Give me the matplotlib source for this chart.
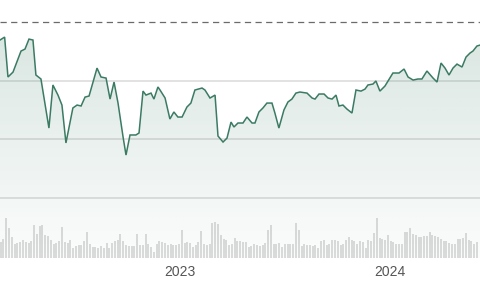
import matplotlib
matplotlib.use("Agg")
import matplotlib.pyplot as plt
import numpy as np
from matplotlib.colors import to_rgb

# price series (decimal year, price)
dates = [2022.143, 2022.165, 2022.181, 2022.205, 2022.243, 2022.262, 2022.281, 2022.300,
         2022.314, 2022.338, 2022.376, 2022.395, 2022.419, 2022.438, 2022.457, 2022.490,
         2022.510, 2022.529, 2022.548, 2022.567, 2022.605, 2022.624, 2022.648, 2022.667,
         2022.686, 2022.705, 2022.729, 2022.743, 2022.762, 2022.790, 2022.805, 2022.824,
         2022.838, 2022.862, 2022.876, 2022.895, 2022.905, 2022.929, 2022.952, 2022.971,
         2022.990, 2023.010, 2023.033, 2023.052, 2023.071, 2023.105, 2023.119, 2023.143,
         2023.167, 2023.181, 2023.205, 2023.224, 2023.243, 2023.257, 2023.276, 2023.300,
         2023.319, 2023.343, 2023.357, 2023.376, 2023.395, 2023.414, 2023.438, 2023.452,
         2023.471, 2023.495, 2023.514, 2023.533, 2023.552, 2023.571, 2023.605, 2023.629,
         2023.643, 2023.662, 2023.686, 2023.705, 2023.724, 2023.743, 2023.757, 2023.776,
         2023.795, 2023.819, 2023.838, 2023.862, 2023.881, 2023.895, 2023.919, 2023.933,
         2023.952, 2023.976, 2024.014, 2024.043, 2024.067, 2024.086, 2024.110, 2024.133,
         2024.152, 2024.176, 2024.205, 2024.224, 2024.243, 2024.262, 2024.281, 2024.300,
         2024.319, 2024.343, 2024.362, 2024.381, 2024.395, 2024.414, 2024.429]
prices = [58.46, 58.71, 55.31, 55.73, 57.52, 57.69, 58.54, 58.46,
          55.48, 55.14, 50.96, 54.63, 53.77, 52.92, 49.69, 52.67,
          52.92, 52.84, 53.60, 53.69, 56.07, 55.31, 55.22, 53.43,
          54.88, 53.09, 50.20, 48.66, 50.37, 50.37, 50.54, 54.11,
          53.77, 53.94, 53.43, 54.46, 54.20, 53.52, 51.73, 52.33,
          51.90, 51.90, 52.75, 53.09, 54.20, 54.37, 54.20, 53.52,
          53.77, 50.28, 49.77, 50.11, 51.47, 51.05, 51.39, 51.39,
          51.90, 51.39, 51.39, 52.33, 52.67, 53.09, 53.09, 52.24,
          50.96, 52.50, 53.18, 53.43, 53.94, 54.03, 53.94, 53.52,
          53.43, 53.86, 53.86, 53.52, 53.43, 53.77, 52.84, 52.92,
          52.58, 52.24, 54.20, 54.11, 54.28, 54.63, 54.71, 54.97,
          54.11, 54.54, 55.65, 55.65, 55.99, 55.31, 55.05, 55.14,
          55.14, 55.82, 55.22, 54.88, 56.50, 56.07, 55.48, 56.07,
          56.41, 56.16, 57.01, 57.35, 57.52, 57.95, 58.03]

# volume (millions)
volumes = [16, 19, 40, 30, 21, 14, 15, 16, 18, 16, 15, 17, 33, 24, 32, 33, 23, 22, 18, 14,
           15, 17, 31, 16, 15, 18, 10, 12, 13, 13, 17, 26, 14, 11, 11, 10, 12, 10, 15, 10,
           15, 17, 18, 24, 17, 13, 12, 12, 12, 24, 13, 13, 24, 14, 11, 6,
           14, 17, 16, 15, 13, 14, 13, 13, 14, 28, 15, 16, 15, 11, 13, 16, 27, 14, 13, 14,
           35, 36, 34, 23, 19, 18, 13, 14, 20, 17, 17, 16, 16, 11, 12, 14, 13, 12, 13, 15,
           28, 33, 14, 14, 15, 11, 14, 14, 14, 14, 35, 28, 12, 14, 13, 13, 12, 13,
           10, 17, 18, 13, 14, 18, 18, 17, 13, 14, 18, 21, 18, 17, 14, 17, 16, 10, 18, 17,
           25, 40, 20, 19, 18, 23, 17, 16, 14, 14, 14, 26, 26, 30, 24, 23, 21, 21, 22, 22,
           26, 23, 22, 21, 19, 17, 17, 15, 14, 14, 19, 19, 20, 25, 18, 17, 14, 16]

gridvals = [45, 50, 55]
ref_level = 60
xticks = [2023, 2024]
xlabels = ['2023', '2024']

line_color = '#3b7b63'

fig = plt.figure(figsize=(4.8, 3.0), dpi=100)
ax = fig.add_axes([0, 0.14, 1, 0.86])
vax = ax.twinx()
vax.set_zorder(0)
ax.set_zorder(1)
ax.patch.set_visible(False)

xmin, xmax = 2022.143, 2024.4286
ymin, ymax = 39.89, 61.87
ax.set_xlim(xmin, xmax)
ax.set_ylim(ymin, ymax)
vax.set_ylim(0, 258)

# gridlines
for g in gridvals:
    ax.axhline(g, color='#e2e2e2', lw=1.4, zorder=1)
ax.axhline(ref_level, color='#6b6b6b', lw=0.9, ls=(0, (5, 3.5)), zorder=1)

# gradient fill under the line
rgb = to_rgb('#4f8a72')
grad = np.zeros((256, 2, 4))
grad[:, :, 0] = rgb[0]
grad[:, :, 1] = rgb[1]
grad[:, :, 2] = rgb[2]
grad[:, :, 3] = np.linspace(0.24, 0.02, 256)[:, None]
poly = ax.fill_between(dates, prices, ymin, color='none', lw=0)
img = ax.imshow(grad, extent=[xmin, xmax, ymin, ymax], aspect='auto',
                origin='upper', zorder=2)
img.set_clip_path(poly.get_paths()[0], transform=ax.transData)

ax.plot(dates, prices, color=line_color, lw=1.1, zorder=3, solid_joinstyle='miter')

# volume bars
bx = np.linspace(xmin + 0.7 / 210, xmin + 477 / 210, len(volumes))
vax.bar(bx, volumes, width=2.0 / 210, color='#dcdcdc', lw=0)

for a in (ax, vax):
    for s in a.spines.values():
        s.set_visible(False)
ax.set_yticks([])
vax.set_yticks([])
ax.set_xticks(xticks)
ax.set_xticklabels(xlabels, fontsize=10, color='#555555', family='Liberation Sans')
ax.tick_params(axis='x', length=0, pad=5)

fig.savefig('out.png', dpi=100, facecolor='white')
